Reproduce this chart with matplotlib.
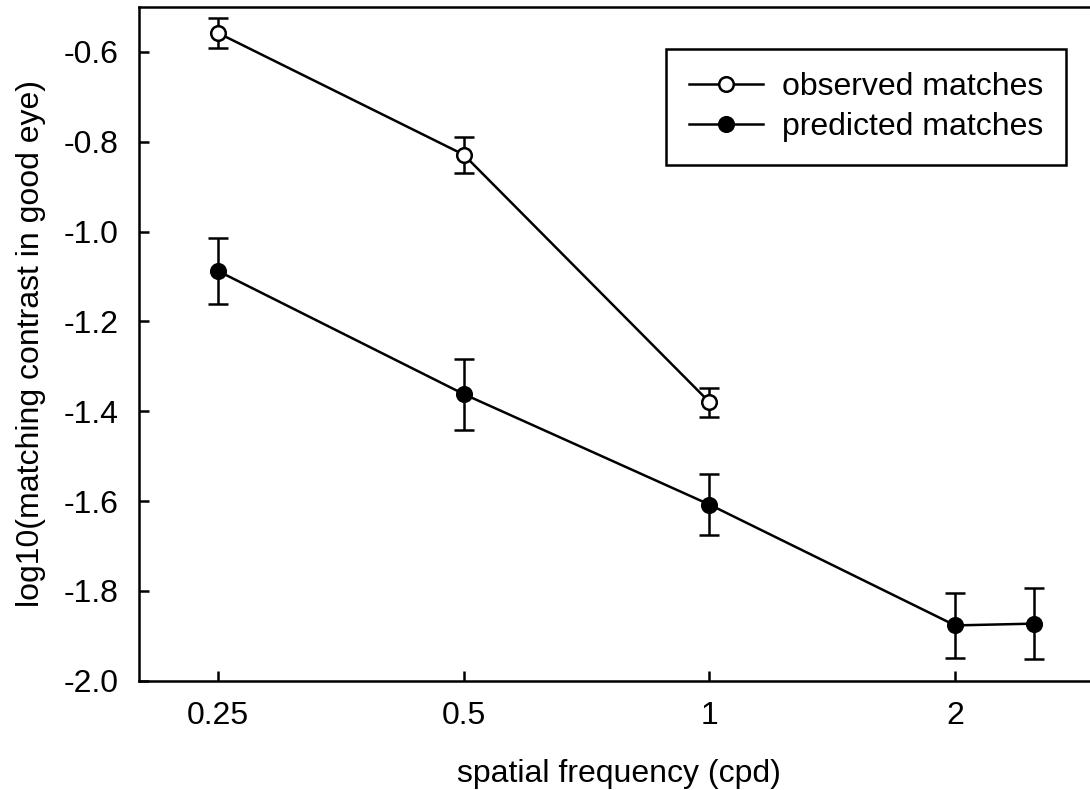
# -*- coding: utf-8 -*-
"""
Matching contrast vs spatial frequency (observed vs predicted)
"""

import matplotlib
matplotlib.use("Agg")
import matplotlib.pyplot as plt
from matplotlib.lines import Line2D

plt.rcParams['font.family'] = ['Liberation Sans', 'DejaVu Sans']
plt.rcParams['axes.unicode_minus'] = False

# Data
freq_observed = [0.25, 0.5, 1.0]
observed = [-0.558, -0.829, -1.380]
observed_err = [0.033, 0.040, 0.032]

freq_predicted = [0.25, 0.5, 1.0, 2.0, 2.5]
predicted = [-1.088, -1.362, -1.608, -1.877, -1.873]
predicted_err = [0.073, 0.079, 0.068, 0.073, 0.079]

x_ticks = [0.25, 0.5, 1, 2]
x_tick_labels = ["0.25", "0.5", "1", "2"]
y_ticks = [-2.0, -1.8, -1.6, -1.4, -1.2, -1.0, -0.8, -0.6]

# Style
font_size = 23
line_width = 1.8
marker_size = 10.5
cap_size = 7

fig = plt.figure(figsize=(10.9, 7.9), dpi=100)
ax = fig.add_axes([0.1275, 0.1384, 0.8807, 0.8528])

ax.errorbar(freq_predicted, predicted, yerr=predicted_err, color='k', lw=line_width,
            marker='o', ms=marker_size, mfc='k', mec='k', mew=line_width,
            capsize=cap_size, capthick=line_width, elinewidth=line_width, zorder=3)
ax.errorbar(freq_observed, observed, yerr=observed_err, color='k', lw=line_width,
            marker='o', ms=marker_size, mfc='white', mec='k', mew=line_width,
            capsize=cap_size, capthick=line_width, elinewidth=line_width, zorder=3)

ax.set_xscale('log', base=2)
ax.set_xlim(0.2, 3.0)
ax.set_ylim(-2.0, -0.5)
ax.set_xticks(x_ticks)
ax.set_xticklabels(x_tick_labels)
ax.minorticks_off()
ax.set_yticks(y_ticks)
ax.set_yticklabels(["%.1f" % v for v in y_ticks])

ax.tick_params(direction='in', length=7, width=line_width, labelsize=font_size)
ax.tick_params(axis='x', pad=15)
ax.tick_params(axis='y', pad=15)
for side in ['left', 'bottom', 'top', 'right']:
    ax.spines[side].set_linewidth(line_width)

ax.set_xlabel("spatial frequency (cpd)", fontsize=font_size, labelpad=20)
ax.set_ylabel("log10(matching contrast in good eye)", fontsize=font_size, labelpad=12)

# Legend: plain line + marker handles, observed first
obs_handle = Line2D([], [], color='k', lw=line_width, marker='o', ms=marker_size,
                    mfc='white', mec='k', mew=line_width)
pred_handle = Line2D([], [], color='k', lw=line_width, marker='o', ms=marker_size,
                     mfc='k', mec='k', mew=line_width)
leg = ax.legend([obs_handle, pred_handle], ['observed matches', 'predicted matches'],
                loc='upper right', bbox_to_anchor=(1066 / 1090, 1 - 49 / 790),
                bbox_transform=fig.transFigure, borderaxespad=0, fontsize=font_size,
                fancybox=False, frameon=True, edgecolor='k', handlelength=2.3,
                handletextpad=0.6, labelspacing=0.32, borderpad=0.72, framealpha=1)
leg.get_frame().set_linewidth(line_width)

fig.savefig("out.png", dpi=100)
